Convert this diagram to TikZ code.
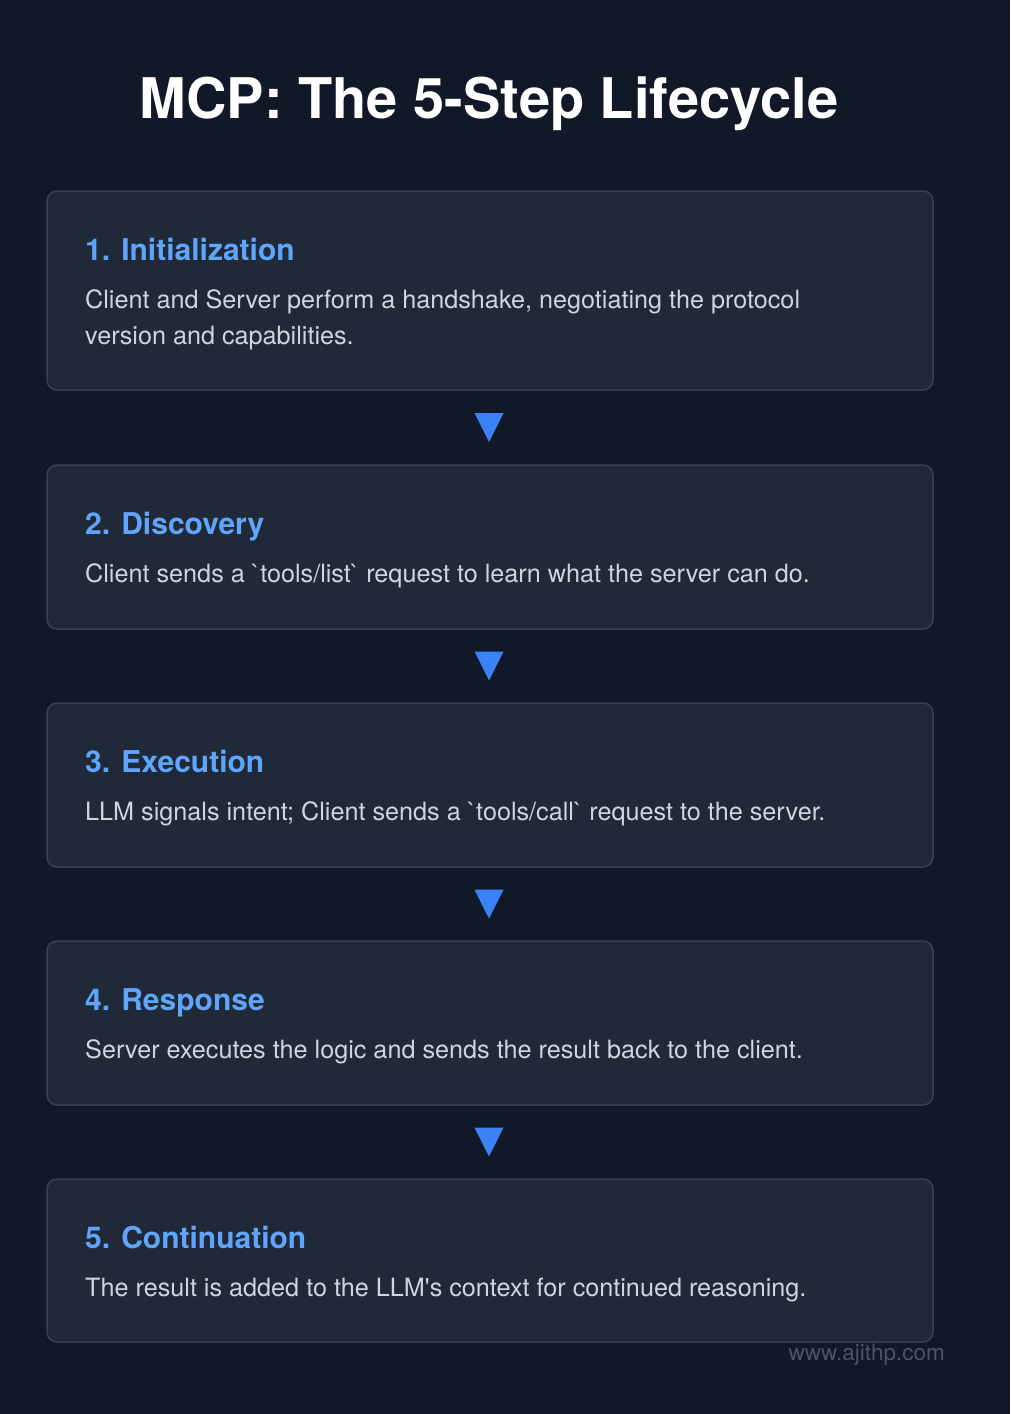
\documentclass[tikz,border=0pt]{standalone}
\usepackage{fontspec}
\setmainfont{TeX Gyre Heros}[Ligatures=TeXOff]
\usetikzlibrary{calc}
\definecolor{bgc}{HTML}{111827}
\definecolor{boxc}{HTML}{1F2937}
\definecolor{borderc}{HTML}{374151}
\definecolor{headc}{HTML}{60A5FA}
\definecolor{bodyc}{HTML}{D1D5DB}
\definecolor{arrowc}{HTML}{3B82F6}
\definecolor{markc}{HTML}{4B5563}
\tikzset{
  card/.style={draw=borderc, line width=1.5pt, fill=boxc, rounded corners=10pt},
  head/.style={anchor=base west, inner sep=0pt, text=headc, font=\fontsize{30}{36}\selectfont\bfseries},
  body/.style={anchor=base west, inner sep=0pt, text=bodyc, font=\fontsize{25.2}{36}\selectfont},
  tri/.style={fill=arrowc},
}
\begin{document}
\begin{tikzpicture}[x=1pt,y=-1pt]
\fill[bgc] (0,0) rectangle (1010,1414);
\useasboundingbox (0,0) rectangle (1010,1414);
\node[anchor=base, inner sep=0pt, text=white, font=\fontsize{56}{64}\selectfont\bfseries] (title) at (489,118) {MCP: The 5-Step Lifecycle};

% cards
\draw[card] (47,191) rectangle (933,390);
\coordinate (c1t) at (489,191); \coordinate (c1b) at (489,390);
\draw[card] (47,465) rectangle (933,629);
\coordinate (c2t) at (489,465); \coordinate (c2b) at (489,629);
\draw[card] (47,703) rectangle (933,867);
\coordinate (c3t) at (489,703); \coordinate (c3b) at (489,867);
\draw[card] (47,941) rectangle (933,1105);
\coordinate (c4t) at (489,941); \coordinate (c4b) at (489,1105);
\draw[card] (47,1179) rectangle (933,1342);
\coordinate (c5t) at (489,1179); \coordinate (c5b) at (489,1342);

% texts
\node[head] (h1) at (85,260) {1. Initialization};
\node[body] (t1a) at (85,308) {Client and Server perform a handshake, negotiating the protocol};
\node[body] (t1b) at (85,344) {version and capabilities.};
\node[head] (h2) at (85,534) {2. Discovery};
\node[body] (t2) at (85,582) {Client sends a \symbol{96}tools/list\symbol{96} request to learn what the server can do.};
\node[head] (h3) at (85,772) {3. Execution};
\node[body] (t3) at (85,820) {LLM signals intent; Client sends a \symbol{96}tools/call\symbol{96} request to the server.};
\node[head] (h4) at (85,1010) {4. Response};
\node[body] (t4) at (85,1058) {Server executes the logic and sends the result back to the client.};
\node[head] (h5) at (85,1248) {5. Continuation};
\node[body] (t5) at (85,1296) {The result is added to the LLM's context for continued reasoning.};

% arrows
\foreach \a/\b in {c1b/c2t, c2b/c3t, c3b/c4t, c4b/c5t}{
  \coordinate (m) at ($(\a)!0.5!(\b)$);
  \fill[tri] ($(m)+(-14.5,-14.5)$) -- ($(m)+(14.5,-14.5)$) -- ($(m)+(0,14.5)$) -- cycle;
}

\node[anchor=base east, inner sep=0pt, text=markc, font=\fontsize{22.5}{26}\selectfont] (wm) at (945,1360) {www.ajithp.com};
\end{tikzpicture}
\end{document}
